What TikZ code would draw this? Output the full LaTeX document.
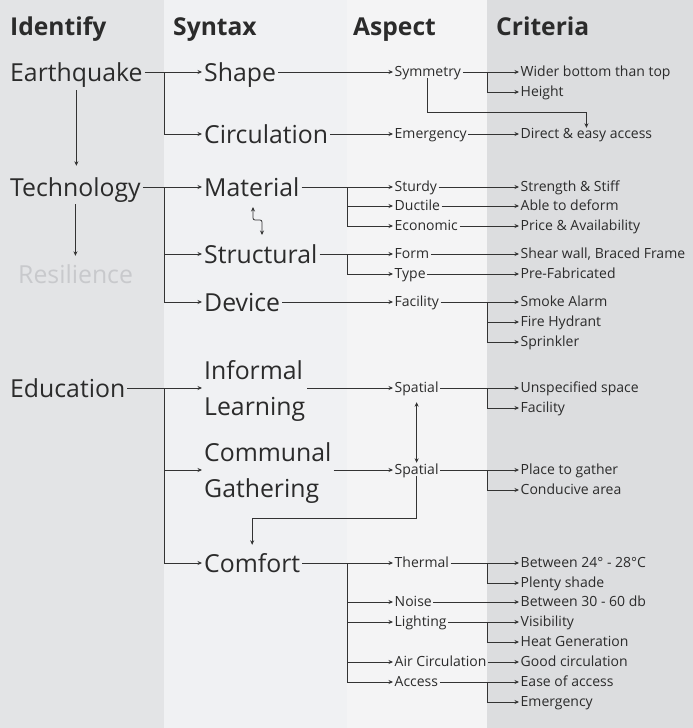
\documentclass[tikz,border=0pt]{standalone}
\usepackage{fontspec}
\setmainfont{Open Sans}
\usetikzlibrary{arrows.meta}
\definecolor{txt}{HTML}{2B2B2B}
\definecolor{lncol}{HTML}{333333}
\definecolor{colA}{HTML}{E3E4E6}
\definecolor{colB}{HTML}{F0F1F3}
\definecolor{colC}{HTML}{F4F4F5}
\definecolor{colD}{HTML}{DCDDDF}
\definecolor{resil}{HTML}{C8C9CC}
\begin{document}
\begin{tikzpicture}[x=1pt,y=-1pt,
 big/.style={font=\fontsize{24.8}{36}\selectfont, text=txt, anchor=west, inner xsep=2pt, inner ysep=0pt, text height=18pt, text depth=0pt},
 bigtwo/.style={font=\fontsize{24.8}{36}\selectfont, text=txt, anchor=west, inner xsep=2pt, inner ysep=0pt, align=left},
 sm/.style={font=\fontsize{14}{18}\selectfont, text=txt, anchor=west, inner xsep=1.5pt, inner ysep=0pt, text height=10pt, text depth=2pt},
 hd/.style={font=\fontsize{24.6}{30}\selectfont\bfseries, text=txt, anchor=base west, inner sep=0pt},
 arr/.style={draw=lncol, line width=0.8pt, -{Stealth[length=4.5pt,width=4pt]}},
 dbl/.style={draw=lncol, line width=0.8pt, {Stealth[length=4.5pt,width=4pt]}-{Stealth[length=4.5pt,width=4pt]}},
]
% column backgrounds
\fill[colA] (0,0) rectangle (164,728);
\fill[colB] (164,0) rectangle (347,728);
\fill[colC] (347,0) rectangle (487,728);
\fill[colD] (487,0) rectangle (693,728);
\useasboundingbox (0,0) rectangle (693,728);

% headers
\node[hd] (hid) at (10,35) {Identify};
\node[hd] (hsy) at (173,35) {Syntax};
\node[hd] (has) at (353,35) {Aspect};
\node[hd] (hcr) at (496,35) {Criteria};

% identify
\node[big] (eq) at (8,72) {Earthquake};
\node[big] (tech) at (8,187) {Technology};
\node[big, text=resil] (res) at (16,274) {Resilience};
\node[big] (edu) at (8,388) {Education};

% syntax
\node[big] (shape) at (202,72) {Shape};
\node[big] (circ) at (202,134) {Circulation};
\node[big] (mat) at (202,187) {Material};
\node[big] (struc) at (202,254) {Structural};
\node[big] (dev) at (202,302) {Device};
\node[bigtwo] (inf) at (202,388) {\rule{0pt}{24.5pt}Informal\\Learning};
\node[bigtwo] (com) at (202,470) {\rule{0pt}{24.5pt}Communal\\Gathering};
\node[big] (comf) at (202,563) {Comfort};

% aspect
\node[sm] (sym) at (393,72) {Symmetry};
\node[sm] (emer) at (393,134) {Emergency};
\node[sm] (sturdy) at (393,187) {Sturdy};
\node[sm] (duct) at (393,206) {Ductile};
\node[sm] (econ) at (393,226) {Economic};
\node[sm] (form) at (393,254) {Form};
\node[sm] (type) at (393,274) {Type};
\node[sm] (fac) at (393,302) {Facility};
\node[sm] (sp1) at (393,388) {Spatial};
\node[sm] (sp2) at (393,470) {Spatial};
\node[sm] (therm) at (393,563) {Thermal};
\node[sm] (noise) at (393,602) {Noise};
\node[sm] (light) at (393,622) {Lighting};
\node[sm] (air) at (393,662) {Air Circulation};
\node[sm] (acc) at (393,682) {Access};

% criteria
\node[sm] (wider) at (519,72) {Wider bottom than top};
\node[sm] (height) at (519,92) {Height};
\node[sm] (direct) at (519,134) {Direct \& easy access};
\node[sm] (strength) at (519,187) {Strength \& Stiff};
\node[sm] (able) at (519,206) {Able to deform};
\node[sm] (price) at (519,226) {Price \& Availability};
\node[sm] (shear) at (519,254) {Shear wall, Braced Frame};
\node[sm] (prefab) at (519,274) {Pre-Fabricated};
\node[sm] (smoke) at (519,302) {Smoke Alarm};
\node[sm] (fire) at (519,322) {Fire Hydrant};
\node[sm] (sprink) at (519,342) {Sprinkler};
\node[sm] (unspec) at (519,388) {Unspecified space};
\node[sm] (facil) at (519,408) {Facility};
\node[sm] (place) at (519,470) {Place to gather};
\node[sm] (cond) at (519,490) {Conducive area};
\node[sm] (bta) at (519,563) {Between 24° - 28°C};
\node[sm] (plenty) at (519,583) {Plenty shade};
\node[sm] (btb) at (519,602) {Between 30 - 60 db};
\node[sm] (vis) at (519,622) {Visibility};
\node[sm] (heat) at (519,642) {Heat Generation};
\node[sm] (good) at (519,662) {Good circulation};
\node[sm] (ease) at (519,682) {Ease of access};
\node[sm] (emg) at (519,702) {Emergency};

% bus coordinates
\coordinate (bL) at (164,0);
\coordinate (bM) at (347,0);
\coordinate (bR) at (487,0);
\coordinate (symturn) at (0,112);
\coordinate (spturn) at (0,518);
\coordinate (mz1) at (253,207);
\coordinate (mzm) at (257,220);
\coordinate (mz2) at (262,235);

% identify vertical arrows
\draw[arr, shorten <=9pt, shorten >=12pt] (eq.south) -- (eq.south |- tech.north);
\draw[arr, shorten <=8pt, shorten >=9pt] (tech.south) -- (tech.south |- res.north);

% identify -> syntax
\draw[arr] (eq.east) -- (shape.west);
\draw[arr] (eq.east -| bL) |- (circ.west);
\draw[arr] (tech.east) -- (mat.west);
\draw[arr] (tech.east -| bL) |- (struc.west);
\draw[arr] (tech.east -| bL) |- (dev.west);
\draw[arr] (edu.east) -- (inf.west);
\draw[arr] (edu.east -| bL) |- (com.west);
\draw[arr] (edu.east -| bL) |- (comf.west);

% material <-> structural
\draw[dbl, rounded corners=2pt] (mz1) |- (mzm) -| (mz2);

% syntax -> aspect
\draw[arr] (shape.east) -- (sym.west);
\draw[arr] (circ.east) -- (emer.west);
\draw[arr] (mat.east) -- (sturdy.west);
\draw[arr] (mat.east -| bM) |- (duct.west);
\draw[arr] (mat.east -| bM) |- (econ.west);
\draw[arr] (struc.east) -- (form.west);
\draw[arr] (struc.east -| bM) |- (type.west);
\draw[arr] (dev.east) -- (fac.west);
\draw[arr] (inf.east) -- (sp1.west);
\draw[arr] (com.east) -- (sp2.west);
\draw[arr] (comf.east) -- (therm.west);
\draw[arr] (comf.east -| bM) |- (noise.west);
\draw[arr] (comf.east -| bM) |- (light.west);
\draw[arr] (comf.east -| bM) |- (air.west);
\draw[arr] (comf.east -| bM) |- (acc.west);

% aspect -> criteria
\draw[arr] (sym.east) -- (wider.west);
\draw[arr] (sym.east -| bR) |- (height.west);
\draw[arr] (emer.east) -- (direct.west);
\draw[arr] (sturdy.east) -- (strength.west);
\draw[arr] (duct.east) -- (able.west);
\draw[arr] (econ.east) -- (price.west);
\draw[arr] (form.east) -- (shear.west);
\draw[arr] (type.east) -- (prefab.west);
\draw[arr] (fac.east) -- (smoke.west);
\draw[arr] (fac.east -| bR) |- (fire.west);
\draw[arr] (fac.east -| bR) |- (sprink.west);
\draw[arr] (sp1.east) -- (unspec.west);
\draw[arr] (sp1.east -| bR) |- (facil.west);
\draw[arr] (sp2.east) -- (place.west);
\draw[arr] (sp2.east -| bR) |- (cond.west);
\draw[arr] (therm.east) -- (bta.west);
\draw[arr] (therm.east -| bR) |- (plenty.west);
\draw[arr] (noise.east) -- (btb.west);
\draw[arr] (light.east) -- (vis.west);
\draw[arr] (light.east -| bR) |- (heat.west);
\draw[arr] (air.east) -- (good.west);
\draw[arr] (acc.east) -- (ease.west);
\draw[arr] (acc.east -| bR) |- (emg.west);

% cross links
\draw[arr] (sym.south) -- (sym.south |- symturn) -| (direct.north);
\draw[dbl, shorten <=8pt, shorten >=1pt] (sp1.south) -- (sp2.north);
\draw[arr, shorten >=9pt] (sp2.south) -- (sp2.south |- spturn) -| (comf.north);
\end{tikzpicture}
\end{document}
